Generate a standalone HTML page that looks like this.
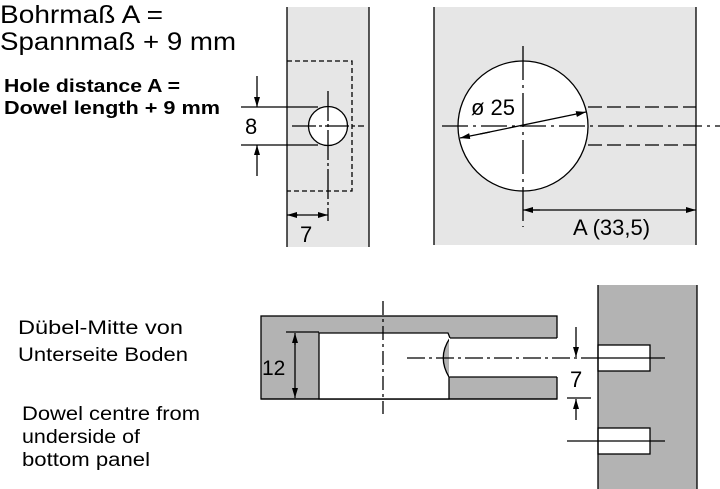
<!DOCTYPE html>
<html><head><meta charset="utf-8"><style>html,body{margin:0;padding:0;background:#fff}svg{display:block}</style></head><body>
<svg width="720" height="489" viewBox="0 0 720 489" xmlns="http://www.w3.org/2000/svg" font-family="Liberation Sans, DejaVu Sans, sans-serif">
<defs>
<marker id="a" viewBox="0 0 10 6" refX="10" refY="3" markerWidth="10" markerHeight="6" orient="auto" markerUnits="userSpaceOnUse"><path d="M0,0L10,3L0,6z" fill="#000"/></marker>
</defs>
<g fill="#000">
<text x="0" y="23" font-size="25" textLength="163" lengthAdjust="spacingAndGlyphs">Bohrmaß A =</text>
<text x="0" y="50" font-size="25" textLength="236" lengthAdjust="spacingAndGlyphs">Spannmaß + 9 mm</text>
<text x="4" y="92" font-size="18" font-weight="bold" textLength="176" lengthAdjust="spacingAndGlyphs">Hole distance A =</text>
<text x="4" y="114" font-size="18" font-weight="bold" textLength="216" lengthAdjust="spacingAndGlyphs">Dowel length + 9 mm</text>
<text x="18" y="334" font-size="19" textLength="165" lengthAdjust="spacingAndGlyphs">Dübel-Mitte von</text>
<text x="18" y="361" font-size="19" textLength="170" lengthAdjust="spacingAndGlyphs">Unterseite Boden</text>
<text x="22" y="420" font-size="19" textLength="178" lengthAdjust="spacingAndGlyphs">Dowel centre from</text>
<text x="22" y="443" font-size="19" textLength="118" lengthAdjust="spacingAndGlyphs">underside of</text>
<text x="22" y="466" font-size="19" textLength="128" lengthAdjust="spacingAndGlyphs">bottom panel</text>
</g>
<rect x="287" y="7" width="82" height="240" fill="#e6e6e6"/>
<g stroke="#000" stroke-width="1.3" fill="none">
<line x1="287" y1="7" x2="287" y2="247"/><line x1="369" y1="7" x2="369" y2="247"/>
<path d="M287,61H352V191H287" stroke-dasharray="5,3"/>
<circle cx="328" cy="126" r="19.5" fill="#fff"/>
<line x1="292" y1="126" x2="364" y2="126" stroke-dasharray="24,3,3,3"/>
<line x1="328" y1="91" x2="328" y2="221" stroke-dasharray="30,3,3,3"/>
<line x1="241" y1="107" x2="318" y2="107"/><line x1="241" y1="145" x2="318" y2="145"/>
<line x1="257" y1="76" x2="257" y2="107" marker-end="url(#a)"/>
<line x1="257" y1="176" x2="257" y2="145" marker-end="url(#a)"/>
<line x1="298" y1="215" x2="287" y2="215" marker-end="url(#a)"/>
<line x1="296" y1="215" x2="328" y2="215" marker-end="url(#a)"/>
</g>
<text x="245" y="134" font-size="22">8</text>
<text x="300" y="242" font-size="22">7</text>
<rect x="434" y="7" width="262" height="238" fill="#e6e6e6"/>
<g stroke="#000" stroke-width="1.3" fill="none">
<line x1="434" y1="7" x2="434" y2="245"/><line x1="696" y1="7" x2="696" y2="245"/>
<circle cx="523" cy="126" r="65" fill="#fff"/>
<line x1="588" y1="107" x2="696" y2="107" stroke-dasharray="14,5"/>
<line x1="588" y1="145" x2="696" y2="145" stroke-dasharray="14,5"/>
<line x1="442" y1="126" x2="720" y2="126" stroke-dasharray="26,5,3,5"/>
<line x1="523" y1="46" x2="523" y2="227" stroke-dasharray="34,5,3,5"/>
<line x1="490" y1="132" x2="460" y2="138" marker-end="url(#a)"/>
<line x1="480" y1="134" x2="586" y2="112" marker-end="url(#a)"/>
<line x1="540" y1="210" x2="523" y2="210" marker-end="url(#a)"/>
<line x1="530" y1="210" x2="696" y2="210" marker-end="url(#a)"/>
</g>
<text x="471" y="115" font-size="22">ø 25</text>
<text x="573" y="235" font-size="22">A (33,5)</text>
<rect x="261" y="316" width="296" height="83" fill="#b3b3b3" stroke="#000" stroke-width="1.3"/>
<path d="M319,333H448L450,338Q437,357 449,377V399H319Z" fill="#fff" stroke="#000" stroke-width="1.3"/>
<rect x="449" y="338" width="109" height="39" fill="#fff"/>
<g stroke="#000" stroke-width="1.3" fill="none">
<line x1="450" y1="338" x2="557" y2="338"/><line x1="449" y1="377" x2="557" y2="377"/>
<line x1="261" y1="399" x2="557" y2="399"/>
<line x1="383" y1="301" x2="383" y2="414" stroke-dasharray="14,4,3,4"/>
<line x1="407" y1="358" x2="598" y2="358" stroke-dasharray="18,4,3,4"/>
<line x1="286" y1="332" x2="319" y2="332"/>
<line x1="295" y1="345" x2="295" y2="333" marker-end="url(#a)"/>
<line x1="295" y1="340" x2="295" y2="398" marker-end="url(#a)"/>
</g>
<text x="262" y="375" font-size="21">12</text>
<rect x="598" y="285" width="99" height="204" fill="#b3b3b3"/>
<rect x="598" y="345" width="52" height="26" fill="#fff" stroke="#000" stroke-width="1.3"/>
<rect x="598" y="428" width="52" height="26" fill="#fff" stroke="#000" stroke-width="1.3"/>
<g stroke="#000" stroke-width="1.3" fill="none">
<line x1="598" y1="285" x2="598" y2="489"/><line x1="697" y1="285" x2="697" y2="489"/>
<line x1="598" y1="358" x2="665" y2="358"/>
<line x1="567" y1="441" x2="665" y2="441"/>
<line x1="567" y1="398" x2="591" y2="398"/>
<line x1="576" y1="327" x2="576" y2="357" marker-end="url(#a)"/>
<line x1="576" y1="420" x2="576" y2="399" marker-end="url(#a)"/>
</g>
<text x="570" y="387" font-size="22">7</text>
</svg>
</body></html>
